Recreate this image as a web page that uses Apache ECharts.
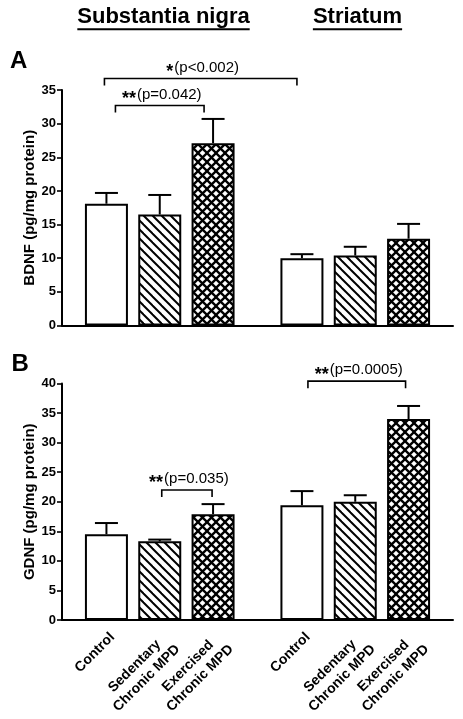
<!DOCTYPE html>
<html>
<head>
<meta charset="utf-8">
<script src="https://cdn.jsdelivr.net/npm/echarts@6/dist/echarts.min.js"></script>
<style>
  html, body { margin: 0; padding: 0; background: #fff; }
  #chart { width: 463px; height: 719px; }
</style>
</head>
<body>
<div id="chart"></div>
<script>
// ---------------- data ----------------
const groups = ['Substantia nigra', 'Striatum'];
const categories = ['Control', 'Sedentary\nChronic MPD', 'Exercised\nChronic MPD'];

const bdnfMean = [18.1, 16.5, 27.1, 10.0, 10.4, 12.9];
const bdnfSem  = [1.6, 2.9, 3.6, 0.6, 1.3, 2.2];
const gdnfMean = [14.5, 13.3, 17.9, 19.4, 20.0, 34.0];
const gdnfSem  = [1.9, 0.3, 1.7, 2.4, 1.1, 2.2];

const bdnfTicks = [0, 5, 10, 15, 20, 25, 30, 35];
const gdnfTicks = [0, 5, 10, 15, 20, 25, 30, 35, 40];

// significance brackets: [from bar, to bar], level (axis units), text
const bdnfSigPairs = [[0, 3], [0, 2]];
const bdnfSigLevel = [36.7, 32.7];
const bdnfSigText  = ['*(p<0.002)', '**(p=0.042)'];
const gdnfSigPairs = [[1, 2], [3, 5]];
const gdnfSigLevel = [22.0, 40.4];
const gdnfSigText  = ['**(p=0.035)', '**(p=0.0005)'];

// ---------------- layout ----------------
const FONT = '"Liberation Sans", Arial, Helvetica, sans-serif';
const SLOTS = 22;                       // fine category slots along x
const slotOf = i => 11 * Math.floor(i / 3) + 2 + 3 * (i % 3);
const bdnfBracketInset = [[-2, -5], [9, -9]];
const gdnfBracketInset = [[2, -1], [6, -3]];

const slotLabels = new Array(SLOTS).fill('');
for (let i = 0; i < groups.length * categories.length; i++) {
  slotLabels[slotOf(i)] = categories[i % 3];
}

function makePattern(kind) {
  const s = 9;
  const c = document.createElement('canvas');
  c.width = s; c.height = s;
  const g = c.getContext('2d');
  g.fillStyle = '#fff';
  g.fillRect(0, 0, s, s);
  g.strokeStyle = '#000';
  g.lineWidth = kind === 'cross' ? 2.3 : 2;
  for (let k = -1; k <= 1; k++) {
    if (kind === 'hatch' || kind === 'cross') {
      g.beginPath(); g.moveTo(k * s - 2, -2); g.lineTo(k * s + s + 2, s + 2); g.stroke();
    }
    if (kind === 'cross') {
      g.beginPath(); g.moveTo(k * s - 2, s + 2); g.lineTo(k * s + s + 2, -2); g.stroke();
    }
  }
  return { image: c, repeat: 'repeat' };
}
const fills = ['#ffffff', makePattern('hatch'), makePattern('cross')];

function barData(means) {
  const d = new Array(SLOTS).fill('-');
  means.forEach((v, i) => {
    d[slotOf(i)] = { value: v, itemStyle: { color: fills[i % 3], borderColor: '#000', borderWidth: 2 } };
  });
  return d;
}
function errData(means, sems) {
  return means.map((v, i) => [slotOf(i), v, sems[i]]);
}
function sigData(pairs, levels) {
  return pairs.map((p, i) => [slotOf(p[0]), slotOf(p[1]), levels[i], i]);
}

const measureCtx = document.createElement('canvas').getContext('2d');
function textW(t, font) { measureCtx.font = font; return measureCtx.measureText(t).width; }

const STAR_FONT = 'bold 18px ' + FONT;
const SIG_FONT = '15px ' + FONT;

function errRender(params, api) {
  const x = api.value(0), m = api.value(1), e = api.value(2);
  const p0 = api.coord([x, m]);
  const p1 = api.coord([x, m + e]);
  const st = { stroke: '#000', lineWidth: 2 };
  return {
    type: 'group',
    children: [
      { type: 'line', shape: { x1: p0[0], y1: p0[1], x2: p1[0], y2: p1[1] }, style: st },
      { type: 'line', shape: { x1: p1[0] - 11.5, y1: p1[1], x2: p1[0] + 11.5, y2: p1[1] }, style: st }
    ]
  };
}

function sigRender(texts, insets) {
  return function (params, api) {
    const idx = api.value(3);
    const a = api.coord([api.value(0), api.value(2)]);
    const b = api.coord([api.value(1), api.value(2)]);
    const x1 = a[0] + insets[idx][0], x2 = b[0] + insets[idx][1], y = a[1];
    const t = texts[idx];
    const m = t.match(/^(\*+)(.*)$/);
    const stars = m[1], rest = m[2];
    const w1 = textW(stars, STAR_FONT) + 1, w2 = textW(rest, SIG_FONT);
    const cx = (x1 + x2) / 2 + 2;
    const left = cx - (w1 + w2) / 2;
    const ty = y - 11;
    return {
      type: 'group',
      children: [
        { type: 'polyline', shape: { points: [[x1, y + 7], [x1, y], [x2, y], [x2, y + 7]] },
          style: { stroke: '#000', lineWidth: 1.6, fill: null } },
        { type: 'text', x: left, y: ty + 4.5,
          style: { text: stars, font: STAR_FONT, fill: '#000', align: 'left', verticalAlign: 'middle' } },
        { type: 'text', x: left + w1, y: ty,
          style: { text: rest, font: SIG_FONT, fill: '#000', align: 'left', verticalAlign: 'middle' } }
      ]
    };
  };
}

function yAxis(gridIndex, ticks, name) {
  return {
    gridIndex, type: 'value', min: ticks[0], max: ticks[ticks.length - 1], interval: ticks[1] - ticks[0],
    name, nameLocation: 'middle', nameGap: 24.5, nameMoveOverlap: false,
    nameTextStyle: { fontFamily: FONT, fontWeight: 'bold', fontSize: 15, color: '#000' },
    axisLine: { show: true, lineStyle: { color: '#000', width: 2 } },
    axisTick: { show: true, length: 5, lineStyle: { color: '#000', width: 1.6 } },
    axisLabel: { margin: 6, fontFamily: FONT, fontWeight: 'bold', fontSize: 13, color: '#000' },
    splitLine: { show: false }
  };
}
function xAxis(gridIndex, showLabels) {
  return {
    gridIndex, type: 'category', data: slotLabels,
    axisLine: { show: true, lineStyle: { color: '#000', width: 2 } },
    axisTick: { show: false },
    axisLabel: showLabels ? {
      show: true, interval: 0, rotate: 45, margin: 9, verticalAlign: 'top',
      formatter: v => v ? v.split('\n').map(s => '{c|' + s + '}').join('\n') : '',
      rich: { c: { align: 'center', fontFamily: FONT, fontWeight: 'bold', fontSize: 14, color: '#000', lineHeight: 17 } }
    } : { show: false }
  };
}

const headerFont = 'bold 22px ' + FONT;
const headers = [
  { text: groups[0], cx: 163.5 },
  { text: groups[1], cx: 357.5 }
];
const graphics = [];
headers.forEach(h => {
  const w = textW(h.text, headerFont);
  graphics.push({ type: 'text', x: h.cx, y: 17.4,
    style: { text: h.text, font: headerFont, fill: '#000', align: 'center', verticalAlign: 'middle' } });
  graphics.push({ type: 'line', shape: { x1: h.cx - w / 2, y1: 29.3, x2: h.cx + w / 2, y2: 29.3 },
    style: { stroke: '#000', lineWidth: 2 } });
});
graphics.push({ type: 'text', x: 10, y: 61.7,
  style: { text: 'A', font: 'bold 24px ' + FONT, fill: '#000', align: 'left', verticalAlign: 'middle' } });
graphics.push({ type: 'text', x: 11.5, y: 364.4,
  style: { text: 'B', font: 'bold 24px ' + FONT, fill: '#000', align: 'left', verticalAlign: 'middle' } });

const chart = echarts.init(document.getElementById('chart'), null, { renderer: 'canvas' });
chart.setOption({
  animation: false,
  backgroundColor: '#fff',
  grid: [
    { left: 62, top: 90, width: 391, height: 235.5 },
    { left: 62, top: 383.5, width: 391, height: 236.5 }
  ],
  xAxis: [xAxis(0, false), xAxis(1, true)],
  yAxis: [yAxis(0, bdnfTicks, 'BDNF (pg/mg protein)'), yAxis(1, gdnfTicks, 'GDNF (pg/mg protein)')],
  series: [
    { type: 'bar', xAxisIndex: 0, yAxisIndex: 0, barWidth: 43, data: barData(bdnfMean), z: 2 },
    { type: 'bar', xAxisIndex: 1, yAxisIndex: 1, barWidth: 43, data: barData(gdnfMean), z: 2 },
    { type: 'custom', xAxisIndex: 0, yAxisIndex: 0, renderItem: errRender, data: errData(bdnfMean, bdnfSem),
      encode: { x: 0, y: 1 }, z: 3, clip: false },
    { type: 'custom', xAxisIndex: 1, yAxisIndex: 1, renderItem: errRender, data: errData(gdnfMean, gdnfSem),
      encode: { x: 0, y: 1 }, z: 3, clip: false },
    { type: 'custom', xAxisIndex: 0, yAxisIndex: 0, renderItem: sigRender(bdnfSigText, bdnfBracketInset),
      data: sigData(bdnfSigPairs, bdnfSigLevel), encode: { x: 0, y: 2 }, z: 4, clip: false },
    { type: 'custom', xAxisIndex: 1, yAxisIndex: 1, renderItem: sigRender(gdnfSigText, gdnfBracketInset),
      data: sigData(gdnfSigPairs, gdnfSigLevel), encode: { x: 0, y: 2 }, z: 4, clip: false }
  ],
  graphic: graphics
});
</script>
</body>
</html>
